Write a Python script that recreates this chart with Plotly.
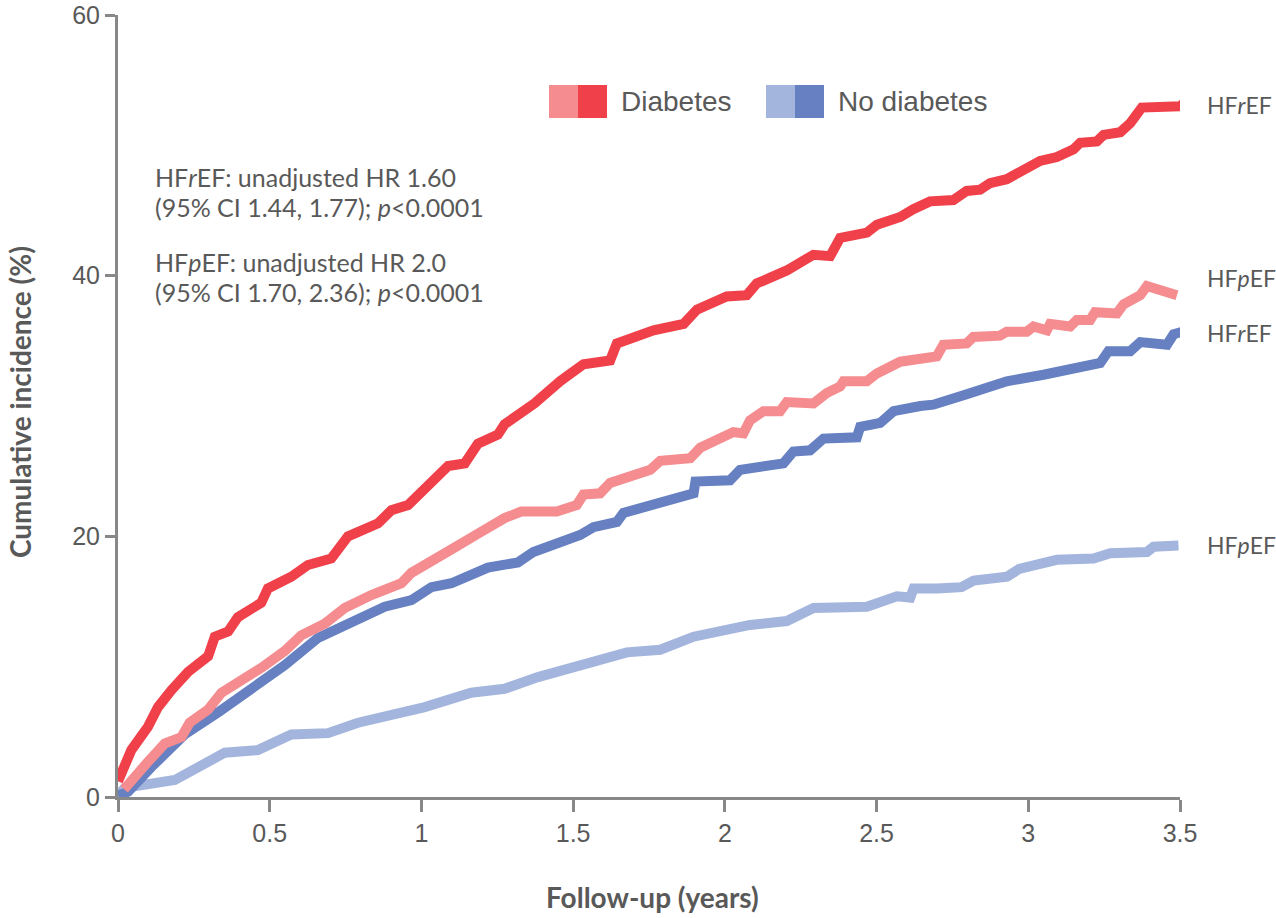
import plotly.graph_objects as go

# Diabetes, HFrEF
dm_rEF_x = [0, 0.016, 0.044, 0.099, 0.132, 0.176, 0.231, 0.297, 0.319, 0.363, 0.395, 0.472, 0.494, 0.571, 0.626, 0.703, 0.758, 0.857, 0.901, 0.956, 1.022, 1.088, 1.143, 1.186, 1.252, 1.274, 1.373, 1.457, 1.534, 1.622, 1.644, 1.765, 1.864, 1.908, 2.006, 2.072, 2.105, 2.204, 2.292, 2.347, 2.380, 2.468, 2.501, 2.578, 2.621, 2.676, 2.753, 2.797, 2.841, 2.874, 2.929, 2.984, 3.039, 3.094, 3.149, 3.171, 3.226, 3.248, 3.303, 3.336, 3.374, 3.501, 3.529]
dm_rEF_y = [1.2, 2.07, 3.6, 5.4, 6.9, 8.2, 9.6, 10.8, 12.3, 12.7, 13.8, 14.9, 16.0, 16.9, 17.8, 18.3, 20.0, 21.0, 22.0, 22.4, 23.8, 25.4, 25.6, 27.1, 27.8, 28.6, 30.2, 31.9, 33.2, 33.5, 34.8, 35.8, 36.3, 37.4, 38.4, 38.5, 39.4, 40.4, 41.6, 41.5, 42.9, 43.3, 43.9, 44.5, 45.1, 45.7, 45.8, 46.5, 46.6, 47.1, 47.4, 48.2, 48.8, 49.1, 49.7, 50.2, 50.3, 50.8, 51.0, 51.7, 52.9, 53.0, 53.6]

# Diabetes, HFpEF
dm_pEF_x = [0.02, 0.044, 0.099, 0.154, 0.209, 0.236, 0.297, 0.341, 0.406, 0.472, 0.549, 0.604, 0.681, 0.747, 0.835, 0.934, 0.967, 1.055, 1.099, 1.186, 1.230, 1.274, 1.329, 1.446, 1.512, 1.534, 1.589, 1.622, 1.754, 1.787, 1.886, 1.919, 2.028, 2.061, 2.083, 2.127, 2.182, 2.204, 2.292, 2.336, 2.380, 2.391, 2.468, 2.501, 2.578, 2.621, 2.698, 2.720, 2.797, 2.819, 2.907, 2.929, 2.995, 3.017, 3.061, 3.072, 3.138, 3.160, 3.204, 3.220, 3.292, 3.314, 3.369, 3.391, 3.446, 3.490]
dm_pEF_y = [0.6, 1.3, 2.7, 4.1, 4.6, 5.7, 6.7, 8.0, 8.9, 9.9, 11.2, 12.4, 13.3, 14.5, 15.5, 16.4, 17.2, 18.3, 19.0, 20.2, 20.9, 21.4, 21.9, 21.9, 22.4, 23.2, 23.3, 24.1, 25.1, 25.8, 26.0, 26.8, 28.0, 27.9, 28.9, 29.6, 29.6, 30.3, 30.2, 31.0, 31.5, 31.9, 31.9, 32.5, 33.4, 33.5, 33.8, 34.7, 34.8, 35.3, 35.4, 35.7, 35.7, 36.1, 35.8, 36.3, 36.1, 36.6, 36.6, 37.2, 37.1, 37.8, 38.5, 39.2, 38.9, 38.5]

# No diabetes, HFrEF
nd_rEF_x = [0, 0.033, 0.11, 0.22, 0.33, 0.44, 0.549, 0.659, 0.769, 0.879, 0.967, 1.033, 1.099, 1.219, 1.318, 1.369, 1.523, 1.567, 1.644, 1.666, 1.897, 1.903, 2.017, 2.050, 2.193, 2.226, 2.281, 2.325, 2.435, 2.446, 2.512, 2.556, 2.644, 2.687, 2.797, 2.929, 3.050, 3.160, 3.237, 3.264, 3.336, 3.369, 3.457, 3.479, 3.507]
nd_rEF_y = [0.1, 0.4, 2.3, 4.8, 6.5, 8.3, 10.1, 12.2, 13.5, 14.6, 15.1, 16.1, 16.4, 17.6, 18.0, 18.8, 20.1, 20.7, 21.1, 21.8, 23.3, 24.2, 24.3, 25.1, 25.6, 26.5, 26.6, 27.5, 27.6, 28.4, 28.7, 29.6, 30.0, 30.1, 30.9, 31.9, 32.4, 33.0, 33.3, 34.2, 34.2, 34.9, 34.7, 35.5, 35.7]

# No diabetes, HFpEF
nd_pEF_x = [0, 0.022, 0.187, 0.253, 0.352, 0.461, 0.571, 0.692, 0.791, 1.011, 1.164, 1.274, 1.384, 1.677, 1.787, 1.897, 2.083, 2.204, 2.292, 2.468, 2.567, 2.611, 2.622, 2.70, 2.78, 2.82, 2.93, 2.97, 3.094, 3.215, 3.270, 3.391, 3.413, 3.495]
nd_pEF_y = [0.1, 0.7, 1.3, 2.1, 3.4, 3.6, 4.8, 4.9, 5.7, 6.9, 8.0, 8.3, 9.2, 11.1, 11.3, 12.3, 13.2, 13.5, 14.5, 14.6, 15.4, 15.3, 16.0, 16.0, 16.1, 16.6, 16.9, 17.5, 18.2, 18.3, 18.7, 18.8, 19.2, 19.3]

x_ticks = [0, 0.5, 1, 1.5, 2, 2.5, 3, 3.5]
x_tick_labels = ["0", "0.5", "1", "1.5", "2", "2.5", "3", "3.5"]
y_ticks = [0, 20, 40, 60]

C_DM_R = "#F0404A"
C_DM_P = "#F58C90"
C_ND_R = "#6680C2"
C_ND_P = "#A3B4DD"
GRAY = "#888888"
TXT = "#595959"

fig = go.Figure()
for xs, ys, c in [(nd_pEF_x, nd_pEF_y, C_ND_P), (nd_rEF_x, nd_rEF_y, C_ND_R),
                  (dm_pEF_x, dm_pEF_y, C_DM_P), (dm_rEF_x, dm_rEF_y, C_DM_R)]:
    n = min(len(xs), len(ys))
    fig.add_trace(go.Scatter(x=xs[:n], y=ys[:n], mode="lines", line=dict(color=c, width=10),
                             showlegend=False, hoverinfo="skip"))

W, H = 1276, 918
L, T = 118, 15
pw, ph = 1062, 782
R, B = W - L - pw, H - T - ph

def px(x):
    return (x - L) / pw

def py(y):
    return (T + ph - y) / ph

shapes = []
for x0, c in [(549, C_DM_P), (578, C_DM_R), (766, C_ND_P), (795, C_ND_R)]:
    shapes.append(dict(type="rect", xref="paper", yref="paper", x0=px(x0), x1=px(x0 + 29),
                       y0=py(118), y1=py(85), fillcolor=c, line=dict(width=0), layer="above"))

LEGF = dict(family="Liberation Sans, Arial", size=28, color=TXT)
annots = []
annots.append(dict(x=px(619), y=py(102), xref="paper", yref="paper", text="Diabetes",
                   showarrow=False, xanchor="left", yanchor="middle", font=LEGF))
annots.append(dict(x=px(836), y=py(102), xref="paper", yref="paper", text="No diabetes",
                   showarrow=False, xanchor="left", yanchor="middle", font=LEGF))

AF = dict(family="Lato, Open Sans", size=25, color=TXT)
info = [("HF<i>r</i>EF: unadjusted HR 1.60", 177), ("(95% CI 1.44, 1.77); <i>p</i><0.0001", 207),
        ("HF<i>p</i>EF: unadjusted HR 2.0", 262), ("(95% CI 1.70, 2.36); <i>p</i><0.0001", 292)]
for t, yy in info:
    annots.append(dict(x=px(153), y=py(yy), xref="paper", yref="paper", text=t, showarrow=False,
                       xanchor="left", yanchor="middle", font=AF))

RF = dict(family="Lato, Open Sans", size=23, color=TXT)
right = [("HF<i>r</i>EF", 105), ("HF<i>p</i>EF", 278), ("HF<i>r</i>EF", 333), ("HF<i>p</i>EF", 545)]
for t, yy in right:
    annots.append(dict(x=px(1205), y=py(yy), xref="paper", yref="paper", text=t, showarrow=False,
                       xanchor="left", yanchor="middle", font=RF))

TF = dict(family="Lato, Open Sans", size=28, color=TXT)
annots.append(dict(x=px(652), y=py(897), xref="paper", yref="paper", text="<b>Follow-up (years)</b>",
                   showarrow=False, xanchor="center", yanchor="middle", font=TF))
annots.append(dict(x=px(20), y=py(402), xref="paper", yref="paper",
                   text="<b>Cumulative incidence (%)</b>", textangle=-90,
                   showarrow=False, xanchor="center", yanchor="middle", font=TF))

fig.update_layout(
    width=W, height=H, autosize=False,
    margin=dict(l=L, r=R, t=T, b=B, autoexpand=False),
    paper_bgcolor="white", plot_bgcolor="white",
    shapes=shapes, annotations=annots,
    xaxis=dict(range=[0, 3.5], tickvals=x_ticks, ticktext=x_tick_labels, showgrid=False,
               zeroline=False, showline=True, linecolor=GRAY, linewidth=3,
               ticks="outside", ticklen=12, tickwidth=3, tickcolor=GRAY,
               ticklabeloverflow="allow", automargin=False,
               tickfont=dict(family="Liberation Sans, Arial", size=25, color=TXT)),
    yaxis=dict(range=[0, 60], tickvals=y_ticks, showgrid=False, zeroline=False,
               showline=True, linecolor=GRAY, linewidth=3,
               ticks="outside", ticklen=10, tickwidth=3, tickcolor=GRAY,
               ticklabeloverflow="allow", automargin=False,
               tickfont=dict(family="Liberation Sans, Arial", size=25, color=TXT)),
)

fig.write_html("out.html", config={"displayModeBar": False},
               post_script="document.body.style.margin='0';document.body.style.overflow='hidden';")
